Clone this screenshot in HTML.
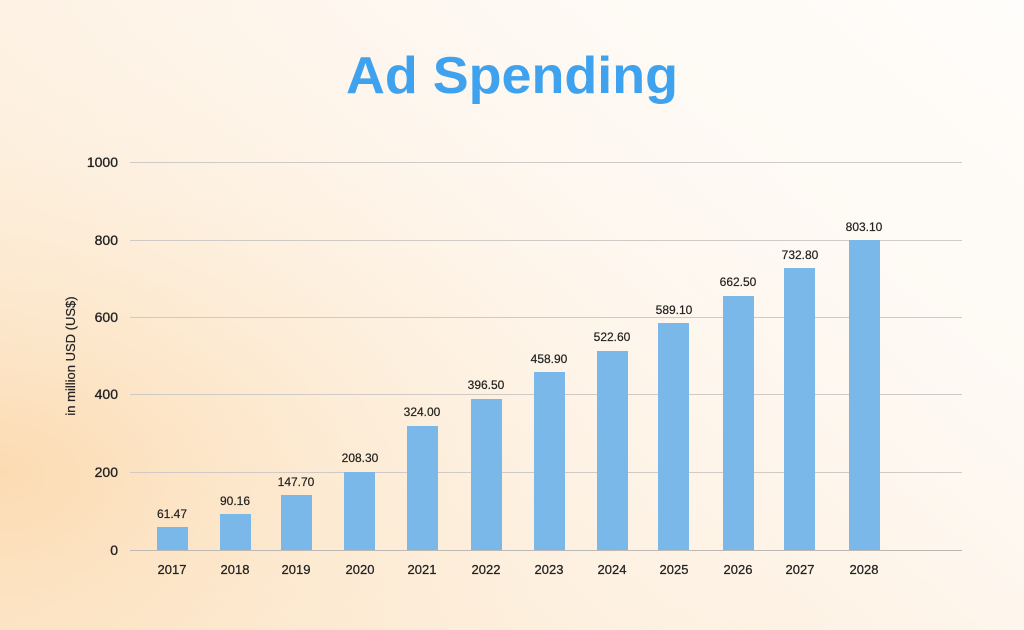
<!DOCTYPE html>
<html><head><meta charset="utf-8"><style>
html,body{margin:0;padding:0;width:1024px;height:630px;overflow:hidden}
body{background:linear-gradient(220deg,#fffdfb 0%,#fef8f1 35%,#fdefdd 65%,#fce2c0 100%)}
</style></head><body>
<svg width="1024" height="630" viewBox="0 0 1024 630" xmlns="http://www.w3.org/2000/svg" style="position:absolute;left:0;top:0">
<defs>
<radialGradient id="g1" cx="0" cy="0.75" r="0.8">
<stop offset="0" stop-color="#fcd9ad" stop-opacity="0.85"/>
<stop offset="1" stop-color="#fff" stop-opacity="0"/>
</radialGradient>
</defs>
<rect width="1024" height="630" fill="url(#g1)"/>
<text x="512" y="93" text-anchor="middle" font-family="Liberation Sans, sans-serif" font-weight="bold" font-size="52" fill="#3fa2ee" textLength="332" lengthAdjust="spacingAndGlyphs">Ad Spending</text>
<g stroke="#cfcac5" stroke-width="1">
<line x1="130" x2="962" y1="162.5" y2="162.5"/>
<line x1="130" x2="962" y1="240.5" y2="240.5"/>
<line x1="130" x2="962" y1="317.5" y2="317.5"/>
<line x1="130" x2="962" y1="394.5" y2="394.5"/>
<line x1="130" x2="962" y1="472.5" y2="472.5"/>
<line x1="130" x2="962" y1="550.5" y2="550.5" stroke="#bdb8b3"/>
</g>
<g font-family="Liberation Sans, sans-serif" font-size="14" fill="#222" text-anchor="end" stroke="#222" stroke-width="0.3">
<text x="118" y="167">1000</text>
<text x="118" y="245">800</text>
<text x="118" y="322">600</text>
<text x="118" y="399">400</text>
<text x="118" y="477">200</text>
<text x="118" y="555">0</text>
</g>
<text transform="translate(75,356) rotate(-90)" text-anchor="middle" font-family="Liberation Sans, sans-serif" font-size="13" fill="#222" stroke="#222" stroke-width="0.2">in million USD (US$)</text>
<g fill="#7bb8ea">
<rect x="157" y="527" width="31" height="23"/>
<rect x="220" y="514" width="31" height="36"/>
<rect x="281" y="495" width="31" height="55"/>
<rect x="344" y="472" width="31" height="78"/>
<rect x="407" y="426" width="31" height="124"/>
<rect x="471" y="399" width="31" height="151"/>
<rect x="534" y="372" width="31" height="178"/>
<rect x="597" y="351" width="31" height="199"/>
<rect x="658" y="323" width="31" height="227"/>
<rect x="723" y="296" width="31" height="254"/>
<rect x="784" y="268" width="31" height="282"/>
<rect x="849" y="240" width="31" height="310"/>
</g>
<g font-family="Liberation Sans, sans-serif" font-size="12" fill="#222" text-anchor="middle" stroke="#222" stroke-width="0.2">
<text x="172" y="518">61.47</text>
<text x="235" y="505">90.16</text>
<text x="296" y="486">147.70</text>
<text x="360" y="462">208.30</text>
<text x="422" y="416">324.00</text>
<text x="486" y="389">396.50</text>
<text x="549" y="363">458.90</text>
<text x="612" y="341">522.60</text>
<text x="674" y="314">589.10</text>
<text x="738" y="286">662.50</text>
<text x="800" y="259">732.80</text>
<text x="864" y="231">803.10</text>
</g>
<g font-family="Liberation Sans, sans-serif" font-size="13" fill="#222" text-anchor="middle" stroke="#222" stroke-width="0.25">
<text x="172" y="574">2017</text>
<text x="235" y="574">2018</text>
<text x="296" y="574">2019</text>
<text x="360" y="574">2020</text>
<text x="422" y="574">2021</text>
<text x="486" y="574">2022</text>
<text x="549" y="574">2023</text>
<text x="612" y="574">2024</text>
<text x="674" y="574">2025</text>
<text x="738" y="574">2026</text>
<text x="800" y="574">2027</text>
<text x="864" y="574">2028</text>
</g>
</svg>
</body></html>
